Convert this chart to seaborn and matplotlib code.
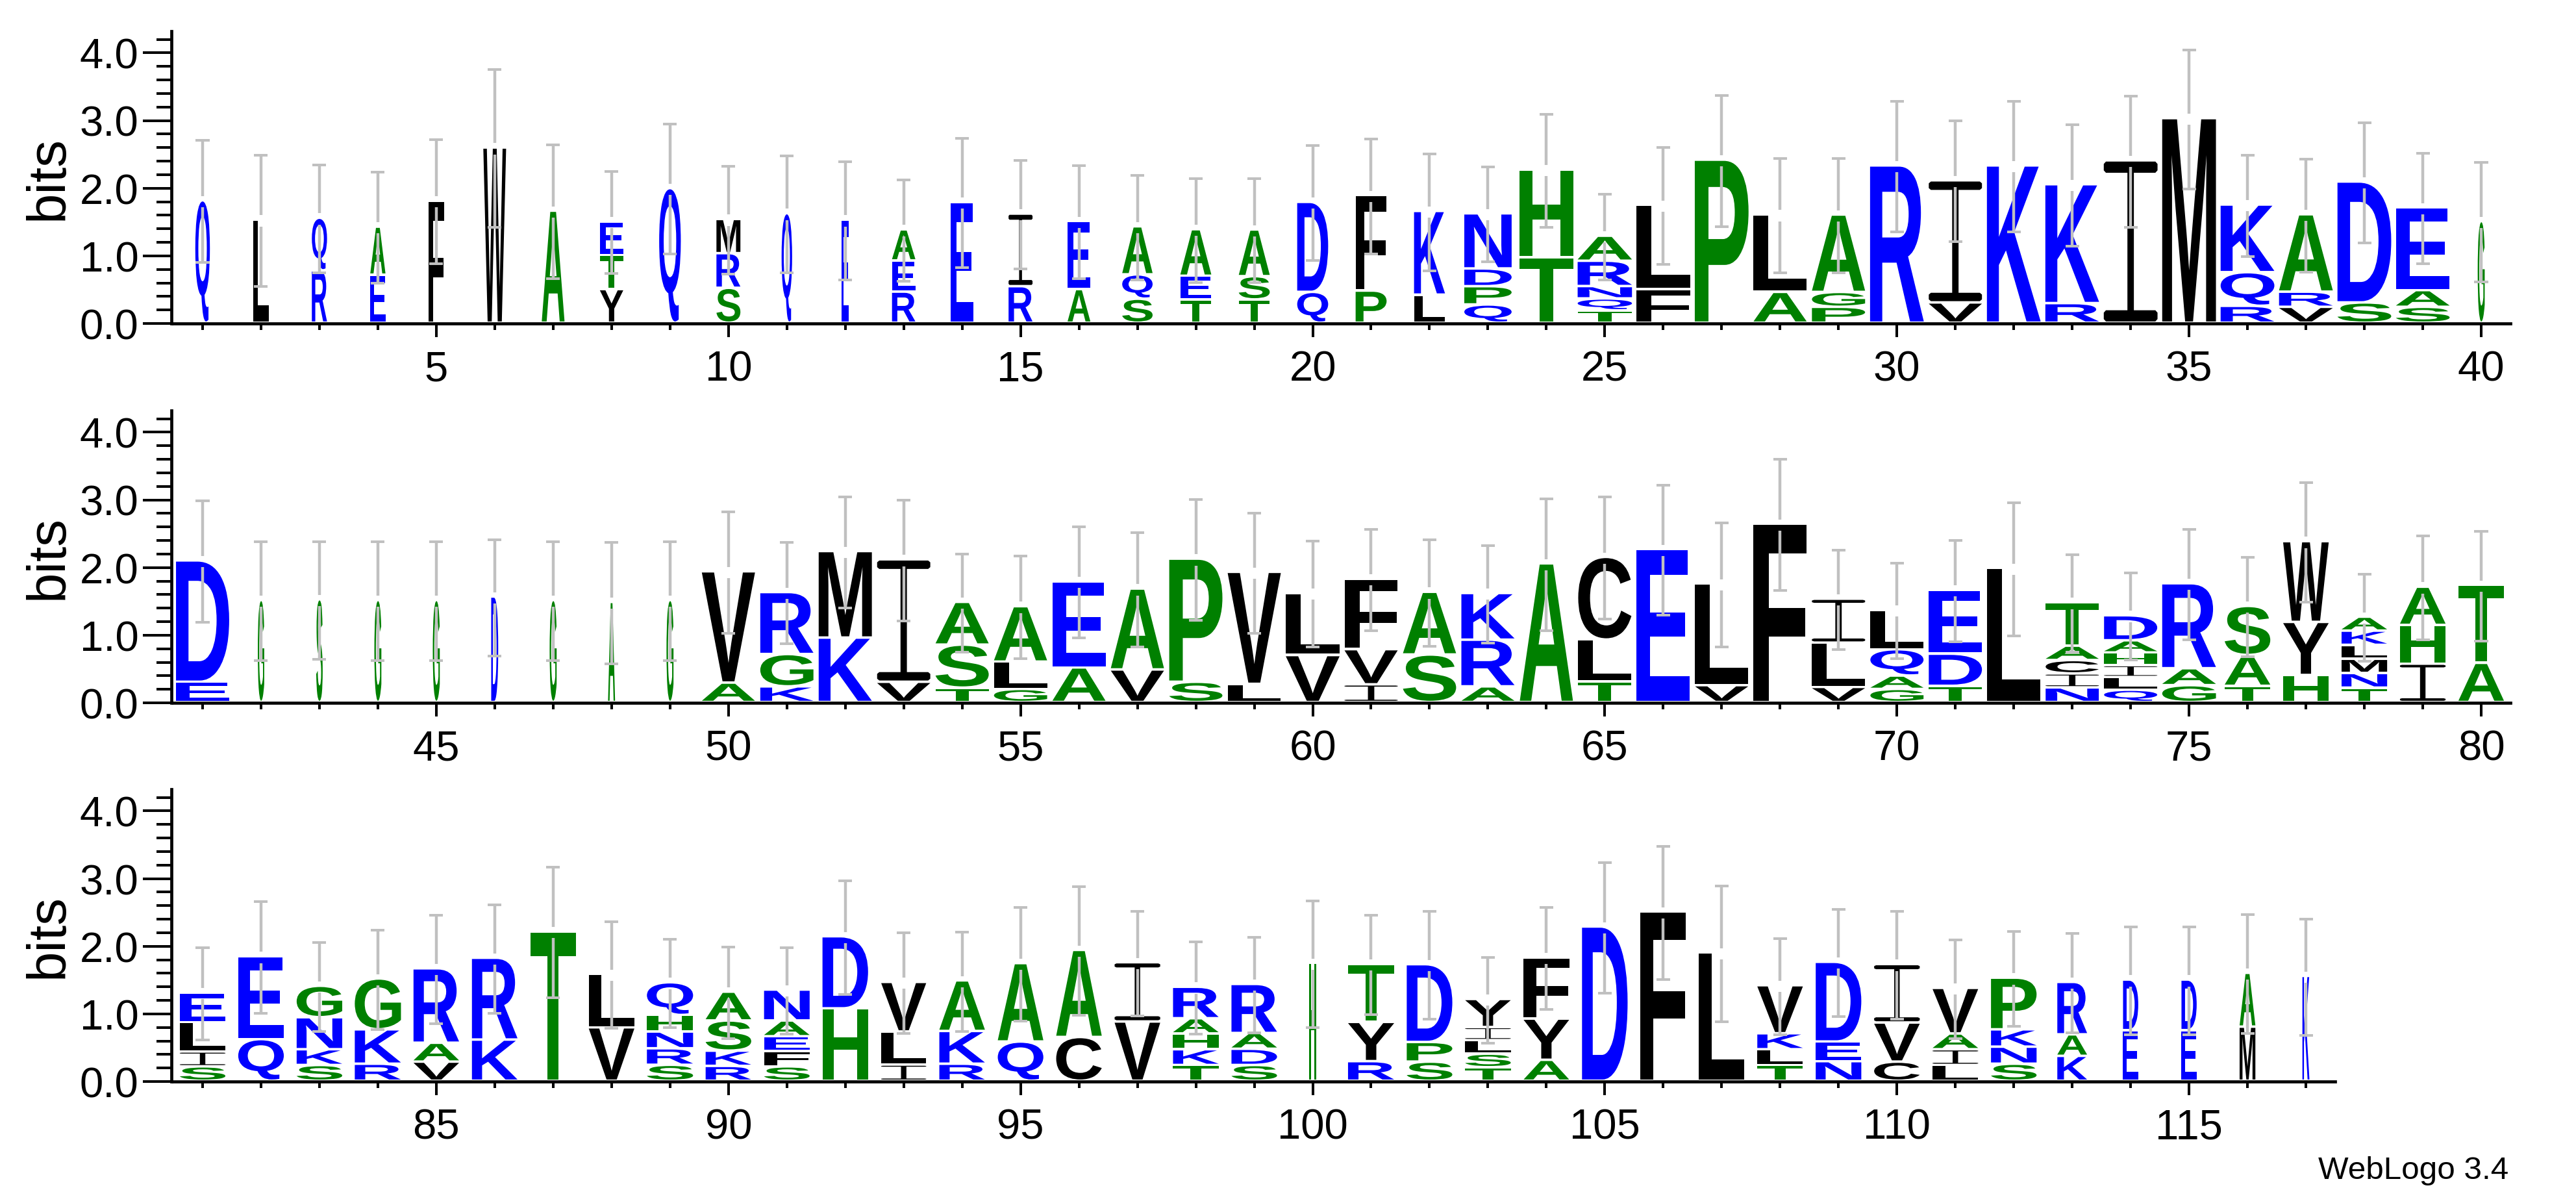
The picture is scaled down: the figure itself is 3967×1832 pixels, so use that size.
import matplotlib
matplotlib.use("Agg")
import matplotlib.pyplot as plt
import seaborn as sns
from matplotlib.font_manager import FontProperties
from matplotlib.patches import PathPatch
from matplotlib.path import Path
from matplotlib.ticker import FixedLocator, MultipleLocator
from matplotlib.textpath import TextPath
from matplotlib.transforms import Affine2D

# Each stack is read bottom to top
letters_1 = ["Q", "L", "RQ", "EA", "F", "W", "A", "YTE", "Q", "SRM", "Q", "E", "REA", "E", "RI", "AE", "SQA", "TEA", "TSA", "QD",
             "PF", "LK", "QPDN", "TH", "TQNRA", "FL", "P", "AL", "PGA", "R", "VI", "K", "RK", "I", "M", "RQK", "VRA", "SD", "SAE", "G"]
heights_1 = [[1.81], [1.525], [.774, .778], [.71, .71], [1.806], [2.59], [1.656], [.497, .505, .497], [1.99], [.516, .512, .505],
             [1.62], [1.525], [.46, .46, .46], [1.787], [.54, 1.073], [.497, 1.006], [.355, .36, .71], [.344, .35, .688], [.344, .344, .69], [.456, 1.33],
             [.475, 1.41], [.415, 1.237], [.27, .27, .262, .815], [.968, 1.297], [.183, .176, .183, .374, .37], [.497, 1.245], [2.41], [.456, 1.144], [.235, .22, 1.144], [2.325],
             [.30, 1.805], [2.325], [.29, 1.757], [2.40], [3.024], [.25, .497, 1.0], [.235, .224, 1.144], [.30, 1.787], [.235, .247, 1.222], [1.503]]
widths_1 = [.25, .26, .26, .26, .26, .39, .39, .40, .37, .41, .18, .12, .40, .39, .41, .39, .52, .53, .53, .53,
            .53, .53, .81, .92, .93, .92, .92, .91, .91, .92, .91, .92, .92, .92, .92, .92, .92, .92, .92, .12]
errors_1 = [.905, .968, .796, .822, .92, 1.166, .99, .755, .96, .80, .864, .875, .748, .957, .804, .834, .774, .766, .766, .852,
            .852, .864, .70, .834, .632, .864, .968, .845, .845, .968, .893, .968, .90, .968, 1.028, .748, .834, .89, .815, .886]

letters_2 = ["ED", "G", "S", "G", "G", "D", "G", "A", "G", "AV", "KGR", "KM", "VI", "TSA", "GLA", "AE", "VA", "SP", "LV", "VL",
             "IVF", "SA", "ARK", "A", "TLC", "E", "VL", "F", "VLI", "GAQL", "TDE", "L", "NICAT", "QLIHAD", "GAR", "TAS", "HYW", "TNMLKA", "IHA", "AT"]
heights_2 = [[.30, 1.794], [1.51], [1.52], [1.51], [1.51], [1.56], [1.51], [1.48], [1.51], [.288, 1.645],
             [.232, .478, .916], [.953, 1.279], [.30, 1.81], [.213, .636, .632], [.194, .404, .819], [.512, 1.275], [.482, 1.196], [.30, 1.82], [.269, 1.656], [.695, .92],
             [.262, .52, 1.043], [.703, .927], [.232, .69, .69], [2.05], [.307, .617, 1.222], [2.26], [.25, 1.5], [2.635], [.224, .654, .65], [.194, .198, .389, .583],
             [.24, .475, .946], [1.98], [.217, .206, .198, .213, .643], [.183, .187, .176, .187, .18, .37], [.25, .25, 1.256], [.24, .456, .725], [.40, .785, 1.193], [.213, .217, .21, .206, .21, .206], [.568, .572, .565], [.58, 1.151]]
widths_2 = [.91, .11, .11, .12, .12, .12, .12, .12, .12, .91, .91, .91, .91, .91, .91, .91, .91, .91, .91, .92,
            .91, .91, .91, .91, .91, .91, .91, .91, .91, .91, .91, .91, .91, .91, .92, .78, .78, .78, .78, .78]
errors_2 = [.897, .882, .87, .882, .882, .86, .882, .90, .882, .90, .748, .822, .89, .729, .759, .822, .845, .89, .89, .785,
            .748, .785, .718, .976, .90, .96, .92, .968, .736, .707, .748, .987, .718, .64, .815, .736, .882, .643, .766, .815]

letters_3 = ["SILE", "QE", "SKNG", "RKG", "VAR", "KR", "T", "VL", "SRNHQ", "RKSA", "SFEAN", "HD", "ILV", "RKA", "QA", "CA", "VI", "TKHAR", "SDAR", "H",
             "RYT", "SPD", "TSLIY", "AYF", "D", "F", "L", "TLKV", "NED", "CVI", "LIAV", "SNKP", "KAR", "ED", "ED", "MA", "K"]
heights_3 = [[.213, .22, .434, .438], [.616, 1.225], [.233, .233, .473, .465], [.252, .508, .752], [.283, .279, 1.10], [.609, 1.209], [2.21], [.79, .79], [.236, .244, .248, .244, .484], [.22, .225, .446, .426],
             [.213, .225, .22, .233, .457], [1.07, 1.066], [.24, .488, .733], [.252, .484, .748], [.58, 1.159], [.647, 1.287], [.876, .876], [.233, .233, .233, .225, .465], [.233, .24, .233, .725], [1.74],
             [.29, .58, .86], [.283, .29, 1.15], [.20, .20, .20, .194, .415], [.31, .609, .907], [2.28], [2.50], [1.895], [.233, .233, .236, .71], [.29, .29, 1.178], [.283, .578, .864],
             [.233, .233, .233, .674], [.252, .252, .256, .764], [.368, .318, .775], [.748, .748], [.748, .748], [.80, .795], [1.55]]
widths_3 = [.78, .78, .78, .79, .78, .78, .775, .78, .79, .78, .78, .78, .77, .78, .78, .78, .78, .78, .78, .13,
            .79, .78, .78, .78, .78, .78, .78, .78, .78, .78, .78, .78, .51, .26, .26, .27, .12]
errors_3 = [.682, .826, .659, .736, .802, .802, .969, .787, .655, .674, .64, .841, .748, .733, .837, .95, .775, .682, .705, .938,
            .733, .795, .632, .756, .965, .984, 1.004, .71, .795, .795, .729, .698, .736, .798, .798, .88, .857]

first_positions = [1, 41, 81]
x_labels = [[5, 10, 15, 20, 25, 30, 35, 40],
            [45, 50, 55, 60, 65, 70, 75, 80],
            [85, 90, 95, 100, 105, 110, 115]]
y_labels = ["0.0", "1.0", "2.0", "3.0", "4.0"]

letter_colors = {}
for c in "ASTGHP":
    letter_colors[c] = "#008000"
for c in "DEQRKN":
    letter_colors[c] = "#0000ff"
for c in "LIVMFWYC":
    letter_colors[c] = "#000000"

GAP = 0.037       # white space between stacked letters
BASE = 0.03       # letters sit just above the axis line
ERR_GAP = 0.083   # error bar is left out around the top of the stack
ERR_COLOR = "#c0c0c0"
W, H = 3967, 1833

sns.set_theme(style="ticks")
plt.rcParams["font.family"] = ["Liberation Sans", "DejaVu Sans"]

font = FontProperties(family="Liberation Sans", weight="bold")

# the serif I of the original, which Liberation Sans does not have
i_glyph = Path([(.04, 0), (.96, 0), (1, .015), (1, .055), (.96, .07), (.56, .07), (.56, .93), (.96, .93), (1, .945), (1, .985), (.96, 1),
                (.04, 1), (0, .985), (0, .945), (.04, .93), (.44, .93), (.44, .07), (.04, .07), (0, .055), (0, .015), (.04, 0)])


def draw_letter(ax, letter, x, y, w, h):
    path = i_glyph if letter == "I" else TextPath((0, 0), letter, size=1, prop=font)
    box = path.get_extents()
    tr = (Affine2D().translate(-box.x0, -box.y0)
          .scale(w / box.width, h / box.height)
          .translate(x - w / 2, y))
    ax.add_patch(PathPatch(path.transformed(tr), facecolor=letter_colors[letter], edgecolor="none", lw=0))


def draw_row(ax, first, letters, heights, widths, errors):
    for i, stack in enumerate(letters):
        x = first + i
        y = BASE
        for letter, h in zip(stack, heights[i]):
            draw_letter(ax, letter, x, y, widths[i], h - GAP)
            y += h
        top = y - GAP
        e = errors[i]
        # two pieces of bar with a gap at the stack top, then the caps
        ax.vlines(x, top + ERR_GAP, top + e, color=ERR_COLOR, lw=3.2, zorder=5)
        ax.vlines(x, top - e, top - ERR_GAP, color=ERR_COLOR, lw=3.2, zorder=5)
        ax.hlines([top - e, top + e], x - 0.117, x + 0.117, color=ERR_COLOR, lw=2.9, zorder=5)


fig = plt.figure(figsize=(W / 100, H / 100), dpi=100)
rows = [(letters_1, heights_1, widths_1, errors_1, 499),
        (letters_2, heights_2, widths_2, errors_2, 1083),
        (letters_3, heights_3, widths_3, errors_3, 1666)]

for r, (letters, heights, widths, errors, base_px) in enumerate(rows):
    ax = fig.add_axes([267 / W, (H - base_px) / H, 3599 / W, 450 / H])
    first = first_positions[r]
    draw_row(ax, first, letters, heights, widths, errors)

    ax.set_xlim(first - 0.5, first + 39.5)
    ax.set_ylim(0, 4.32)
    sns.despine(ax=ax)
    ax.spines["left"].set_position(("outward", 2.2))
    ax.spines["bottom"].set_bounds(first - 0.5, first + len(letters) - 0.5)
    for side in ["left", "bottom"]:
        ax.spines[side].set_linewidth(3.4)
        ax.spines[side].set_color("black")

    ax.xaxis.set_major_locator(FixedLocator(x_labels[r]))
    ax.xaxis.set_minor_locator(FixedLocator(range(first, first + len(letters))))
    ax.set_xticklabels([str(v) for v in x_labels[r]])
    ax.yaxis.set_major_locator(MultipleLocator(1))
    ax.yaxis.set_minor_locator(MultipleLocator(0.2))
    ax.set_yticks(range(5))
    ax.set_yticklabels(y_labels)
    ax.tick_params(axis="x", which="major", length=15, width=2.9, pad=14, labelsize=47, color="black", labelcolor="black")
    ax.tick_params(axis="x", which="minor", length=7.5, width=2.9, color="black")
    ax.tick_params(axis="y", which="major", length=32, width=2.9, pad=4.3, labelsize=47, color="black", labelcolor="black")
    ax.tick_params(axis="y", which="minor", length=16.5, width=2.9, color="black")
    ax.set_ylabel("bits", fontsize=60, color="black")
    ax.yaxis.set_label_coords(-(267 - 114) / 3599, 0.5)
    ax.patch.set_alpha(0)

fig.text(3570 / W, (H - 1815) / H, "WebLogo 3.4", fontsize=35.6, color="black", ha="left", va="baseline")

fig.savefig("out.png", dpi=100, facecolor="white")
